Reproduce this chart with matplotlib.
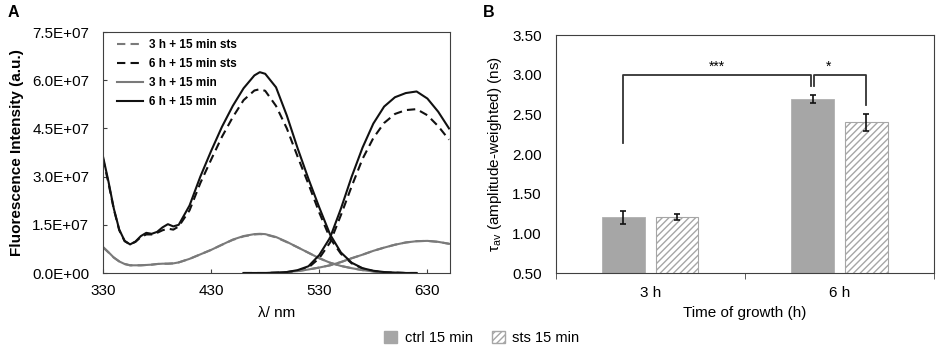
import numpy as np
import matplotlib.pyplot as plt
from matplotlib.patches import Patch

plt.rcParams['font.family'] = ['Liberation Sans', 'DejaVu Sans']
plt.rcParams['mathtext.fontset'] = 'custom'
plt.rcParams['mathtext.rm'] = 'Liberation Sans'
plt.rcParams['hatch.color'] = '#a6a6a6'
plt.rcParams['hatch.linewidth'] = 1.0

# ---- panel A: spectra (intensity in units of 1e7) ----
wl1 = [330, 335, 340, 345, 350, 355, 360, 365, 370, 375, 380, 385, 390, 395, 400,
       410, 420, 430, 440, 450, 460, 470, 475, 480, 490, 500, 510, 520, 530, 540,
       550, 560, 570, 580, 590, 600, 610, 620]
wl2 = [460, 470, 480, 490, 500, 510, 520, 530, 540, 550, 560, 570, 580, 590, 600,
       610, 620, 630, 640, 650]

h6_a = [3.62, 2.85, 2.00, 1.35, 1.00, 0.89, 0.98, 1.15, 1.25, 1.22, 1.28, 1.42, 1.52, 1.45, 1.50,
        2.10, 3.00, 3.80, 4.55, 5.20, 5.75, 6.15, 6.25, 6.20, 5.78, 4.90, 3.88, 2.93, 2.04, 1.20,
        0.64, 0.32, 0.15, 0.07, 0.03, 0.01, 0.00, 0.00]
h6_b = [0.00, 0.00, 0.00, 0.01, 0.03, 0.09, 0.21, 0.56, 1.10, 2.00, 3.00, 3.90, 4.65, 5.18, 5.47,
        5.60, 5.65, 5.43, 5.02, 4.50]

h6s_a = [3.55, 2.80, 1.98, 1.33, 0.99, 0.89, 0.97, 1.12, 1.20, 1.20, 1.25, 1.33, 1.38, 1.35, 1.45,
         1.95, 2.80, 3.53, 4.24, 4.85, 5.38, 5.68, 5.72, 5.67, 5.20, 4.50, 3.62, 2.77, 1.88, 1.08,
         0.60, 0.30, 0.14, 0.06, 0.02, 0.01, 0.00, 0.00]
h6s_b = [0.00, 0.00, 0.00, 0.01, 0.02, 0.07, 0.17, 0.46, 0.95, 1.80, 2.70, 3.55, 4.20, 4.67, 4.95,
         5.07, 5.10, 4.91, 4.57, 4.15]

h3_a = [0.81, 0.65, 0.48, 0.36, 0.28, 0.24, 0.24, 0.24, 0.25, 0.26, 0.28, 0.29, 0.29, 0.30, 0.33,
        0.44, 0.58, 0.72, 0.88, 1.04, 1.15, 1.21, 1.22, 1.21, 1.12, 0.97, 0.80, 0.63, 0.46, 0.32,
        0.22, 0.15, 0.09, 0.05, 0.02, 0.01, 0.00, 0.00]
h3_b = [0.00, 0.00, 0.00, 0.01, 0.03, 0.06, 0.11, 0.17, 0.24, 0.34, 0.46, 0.57, 0.69, 0.79, 0.88,
        0.95, 0.99, 1.00, 0.97, 0.91]

# 3 h sts sits under the 3 h curve in the figure
h3s_a = [0.80, 0.64, 0.48, 0.36, 0.28, 0.24, 0.24, 0.24, 0.25, 0.26, 0.28, 0.29, 0.29, 0.30, 0.33,
         0.44, 0.58, 0.72, 0.88, 1.03, 1.14, 1.20, 1.21, 1.20, 1.11, 0.96, 0.80, 0.63, 0.46, 0.32,
         0.22, 0.15, 0.09, 0.05, 0.02, 0.01, 0.00, 0.00]
h3s_b = [0.00, 0.00, 0.00, 0.01, 0.03, 0.06, 0.11, 0.17, 0.24, 0.34, 0.46, 0.57, 0.69, 0.79, 0.88,
         0.95, 0.99, 1.00, 0.97, 0.91]

# ---- panel B: lifetimes ----
groups = ['3 h', '6 h']
ctrl = [1.20, 2.69]
ctrl_err = [0.08, 0.05]
sts = [1.21, 2.40]
sts_err = [0.04, 0.11]

fig = plt.figure(figsize=(9.41, 3.53), dpi=100)

# panel A
axA = fig.add_axes([0.1095, 0.2266, 0.3688, 0.6827])
gray = '#7a7a7a'
blk = '#111111'
series = [
    (h3s_a, h3s_b, gray, (0, (4, 2.5)), '3 h + 15 min sts'),
    (h6s_a, h6s_b, blk, (0, (4, 2.5)), '6 h + 15 min sts'),
    (h3_a, h3_b, gray, '-', '3 h + 15 min'),
    (h6_a, h6_b, blk, '-', '6 h + 15 min'),
]
for ya, yb, c, ls, lab in series:
    axA.plot(wl1, np.array(ya) * 1e7, color=c, ls=ls, lw=1.5, label=lab)
    axA.plot(wl2, np.array(yb) * 1e7, color=c, ls=ls, lw=1.5)

axA.set_xlim(330, 651)
axA.set_ylim(0, 7.5e7)
axA.set_xticks([330, 430, 530, 630])
yt = np.arange(0, 7.6e7, 1.5e7)
axA.set_yticks(yt)
axA.set_yticklabels(['%.1fE+07' % (v / 1e7) if v > 0 else '0.0E+00' for v in yt])
axA.tick_params(direction='in', length=3, labelsize=11, color='#404040')
axA.tick_params(axis='y', pad=10)
axA.tick_params(axis='x', pad=8)
for s in axA.spines.values():
    s.set_color('#404040')
axA.set_xlabel('λ/ nm', fontsize=11, labelpad=6)
axA.set_ylabel('Fluorescence Intensity (a.u.)', fontsize=11, fontweight='bold', labelpad=6)
axA.legend(loc='upper left', frameon=False, prop={'weight': 'bold', 'size': 8.5},
           handlelength=2.2, handletextpad=0.5, labelspacing=0.6,
           borderaxespad=0.2, bbox_to_anchor=(0.02, 1.0))

# panel B
axB = fig.add_axes([0.5905, 0.2266, 0.402, 0.6742])
x = np.arange(len(groups))
w = 0.225
off = 0.142
axB.bar(x - off, ctrl, w, color='#a6a6a6', edgecolor='#b0b0b0', lw=0.6)
axB.bar(x + off, sts, w, color='white', edgecolor='#a6a6a6', hatch='/////', lw=0.8)
axB.errorbar(x - off, ctrl, yerr=ctrl_err, fmt='none', ecolor='#111111', capsize=2, elinewidth=1.2, capthick=1.2)
axB.errorbar(x + off, sts, yerr=sts_err, fmt='none', ecolor='#111111', capsize=2, elinewidth=1.2, capthick=1.2)

# significance brackets
bc = '#333333'
axB.plot([x[0] - off, x[0] - off, x[1] - off - 0.006, x[1] - off - 0.006],
         [2.14, 3.0, 3.0, 2.86], color=bc, lw=1.3)
axB.plot([x[1] - off + 0.006, x[1] - off + 0.006, x[1] + off, x[1] + off],
         [2.86, 3.0, 3.0, 2.62], color=bc, lw=1.3)
axB.text(0.35, 3.01, '***', ha='center', va='bottom', fontsize=10)
axB.text(0.94, 3.01, '*', ha='center', va='bottom', fontsize=10)

axB.set_xlim(-0.5, 1.5)
axB.set_ylim(0.5, 3.5)
ybt = np.arange(0.5, 3.51, 0.5)
axB.set_yticks(ybt)
axB.set_yticklabels(['%.2f' % v for v in ybt])
axB.set_xticks(x)
axB.set_xticklabels(groups)
axB.set_xticks([-0.5, 0.5, 1.5], minor=True)
axB.tick_params(axis='x', which='major', length=0, labelsize=11, pad=9)
axB.tick_params(axis='x', which='minor', length=4, direction='out', color='#404040')
axB.tick_params(axis='y', length=0, labelsize=11, pad=10)
for s in axB.spines.values():
    s.set_color('#404040')
axB.set_xlabel('Time of growth (h)', fontsize=11, labelpad=5)
axB.set_ylabel('τ$_{\\mathrm{av}}$ (amplitude-weighted) (ns)', fontsize=11, labelpad=6)

handles = [Patch(facecolor='#a6a6a6', edgecolor='#a6a6a6'),
           Patch(facecolor='white', edgecolor='#a6a6a6', hatch='/////')]
fig.legend(handles, ['ctrl 15 min', 'sts 15 min'], loc='lower center', ncol=2,
           bbox_to_anchor=(0.512, -0.015), frameon=False, fontsize=10.5,
           handlelength=0.9, handleheight=0.9, handletextpad=0.5, columnspacing=1.3)

fig.text(0.008, 0.985, 'A', fontsize=11.5, fontweight='bold', va='top')
fig.text(0.513, 0.985, 'B', fontsize=11.5, fontweight='bold', va='top')

fig.savefig('out.png', dpi=100)
